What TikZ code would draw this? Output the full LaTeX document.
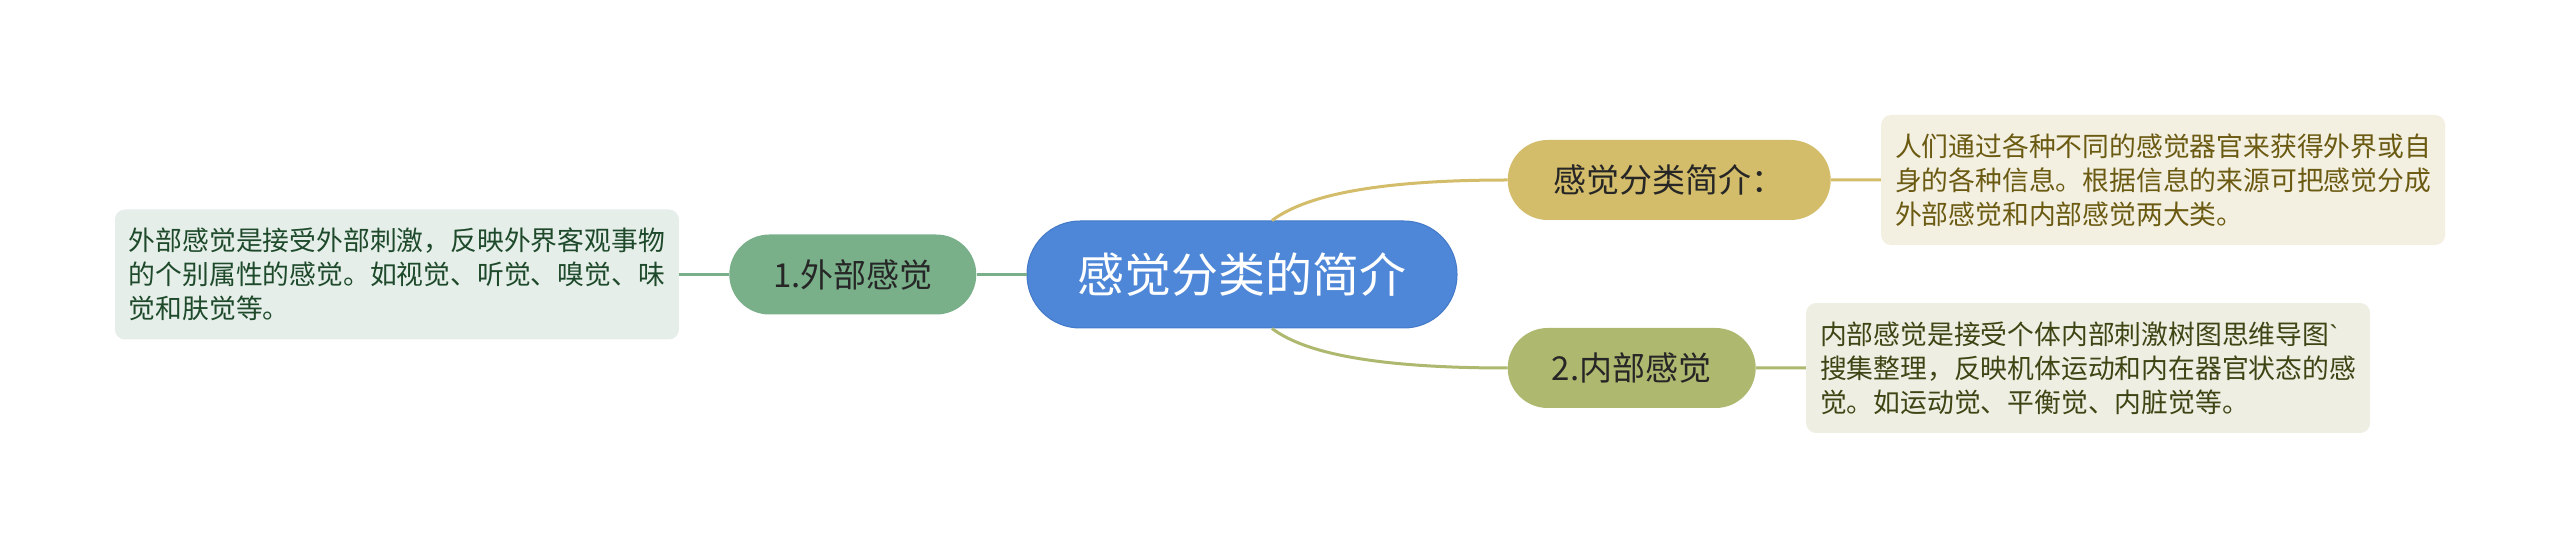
\documentclass[tikz,border=0pt]{standalone}
\usepackage{fontspec}
\setmainfont{Noto Sans CJK SC}
\newfontfamily\gravefont{Liberation Sans}
\usetikzlibrary{positioning}
\definecolor{rootblue}{HTML}{4E87D8}
\definecolor{rootedge}{HTML}{4479C8}
\definecolor{extgreen}{HTML}{79B08A}
\definecolor{extpale}{HTML}{E5EEE9}
\definecolor{exttext}{HTML}{1E4A2B}
\definecolor{introtan}{HTML}{D3BC6A}
\definecolor{intropale}{HTML}{F3F0E1}
\definecolor{introtext}{HTML}{6B5A12}
\definecolor{innolive}{HTML}{AEB86F}
\definecolor{innpale}{HTML}{EEEEE2}
\definecolor{inntext}{HTML}{3E4514}
\tikzset{
node distance=50pt, % gap between a node and its neighbour
topic/.style={inner sep=0pt, minimum height=80pt, rounded corners=40pt, font=\fontsize{33}{40}\selectfont}, % the three branch topics
note/.style={inner sep=0pt, minimum width=564pt, minimum height=130pt, rounded corners=10pt, align=left, font=\fontsize{26.8}{34}\selectfont}, % the text boxes at the ends
link/.style={line width=3pt}, % connectors
}
\begin{document}
\begin{tikzpicture}
    \useasboundingbox (0,0) rectangle (2560pt,549pt);
    % Center topic
    \node[fill=rootblue, draw=rootedge, line width=1pt, inner sep=0pt, minimum width=430pt, minimum height=107pt, rounded corners=53pt, text=white, font=\fontsize{47}{56}\selectfont] (root) at (1242pt,274.5pt) {感觉分类的简介};

    % Left branch
    \node[topic, fill=extgreen, text=black!85, minimum width=247pt, left=of root] (ext) {1.外部感觉};
    \node[note, fill=extpale, text=exttext, left=of ext] (extnote) {外部感觉是接受外部刺激，反映外界客观事物\\的个别属性的感觉。如视觉、听觉、嗅觉、味\\觉和肤觉等。};

    % Right branches
    \node[topic, fill=introtan, text=black!85, minimum width=323pt, right=of root, yshift=94.5pt] (intro) {感觉分类简介：};
    \node[note, fill=intropale, text=introtext, right=of intro] (intronote) {人们通过各种不同的感觉器官来获得外界或自\\身的各种信息。根据信息的来源可把感觉分成\\外部感觉和内部感觉两大类。};
    \node[topic, fill=innolive, text=black!85, minimum width=248pt, right=of root, yshift=-93.5pt] (inn) {2.内部感觉};
    \node[note, fill=innpale, text=inntext, right=of inn] (innnote) {内部感觉是接受个体内部刺激树图思维导图{\gravefont\char96}\\搜集整理，反映机体运动和内在器官状态的感\\觉。如运动觉、平衡觉、内脏觉等。};

    \draw[link, extgreen] (root) -- (ext) (ext) -- (extnote);
    \draw[link, introtan]
    ([xshift=30pt]root.north) .. controls +(28pt,21pt) and +(-147pt,0pt) .. (intro.west)
    (intro) -- (intronote);
    \draw[link, innolive]
    ([xshift=30pt]root.south) .. controls +(28pt,-21pt) and +(-147pt,0pt) .. (inn.west)
    (inn) -- (innnote);
\end{tikzpicture}
\end{document}
